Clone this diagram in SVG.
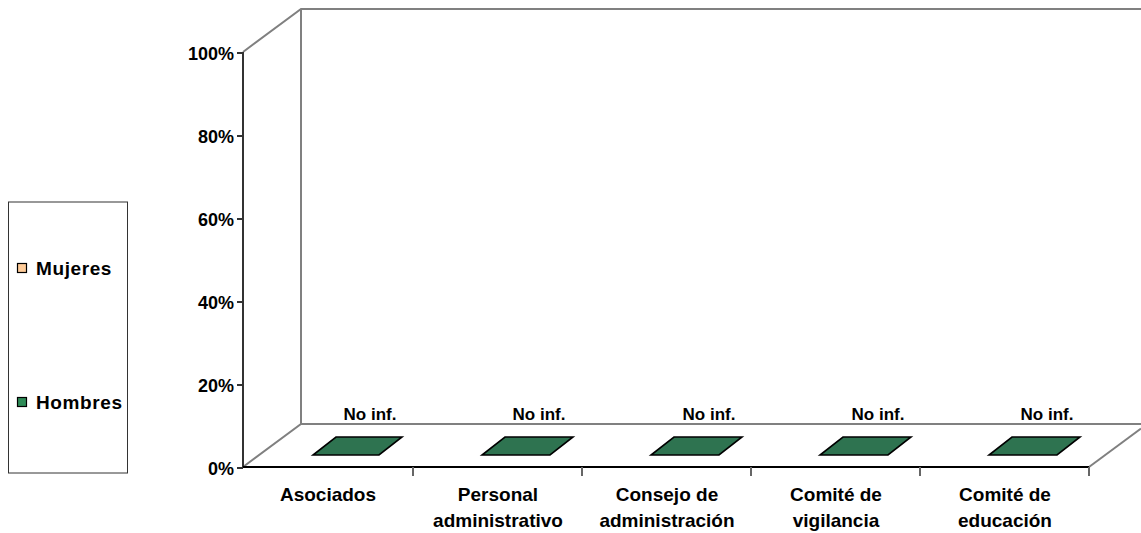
<svg xmlns="http://www.w3.org/2000/svg" width="1141" height="533" viewBox="0 0 1141 533">
<style>
.t{font-family:"Liberation Sans",Arial,sans-serif;font-weight:bold;fill:#000}
.ax{font-size:18px;text-anchor:end}
.cat{font-size:19px;text-anchor:middle}
.ni{font-size:17px;text-anchor:middle}
.lg{font-size:19px;letter-spacing:0.6px}
.wall{stroke:#808080;stroke-width:2;fill:none}
.bar{fill:#2E7350;stroke:#000;stroke-width:1.6;stroke-linejoin:miter}
</style>
<rect width="1141" height="533" fill="#fff"/>
<g id="walls">
<polyline class="wall" points="243,52 301,9 1141,9"/>
<line class="wall" x1="301" y1="9" x2="301" y2="424"/>
<polyline class="wall" points="243,467 301,424 1141,424"/>
<line class="wall" x1="1089" y1="467" x2="1141" y2="428.5" stroke-width="1.2"/>
</g>
<g id="axes" stroke="#333" stroke-width="2">
<line x1="243" y1="52" x2="243" y2="468"/>
<line x1="237" y1="53" x2="243" y2="53"/>
<line x1="237" y1="136" x2="243" y2="136"/>
<line x1="237" y1="219" x2="243" y2="219"/>
<line x1="237" y1="302" x2="243" y2="302"/>
<line x1="237" y1="385" x2="243" y2="385"/>
<line x1="237" y1="468" x2="243" y2="468"/>
<line x1="243" y1="467" x2="1089" y2="467" stroke="#000"/>
<line x1="413" y1="467" x2="413" y2="476" stroke="#666"/>
<line x1="582" y1="467" x2="582" y2="476" stroke="#666"/>
<line x1="751" y1="467" x2="751" y2="476" stroke="#666"/>
<line x1="920" y1="467" x2="920" y2="476" stroke="#666"/>
<line x1="1089" y1="467" x2="1089" y2="476" stroke="#666"/>
</g>
<g id="yLabels">
<text class="t ax" x="234" y="59.5">100%</text>
<text class="t ax" x="234" y="142.5">80%</text>
<text class="t ax" x="234" y="225.5">60%</text>
<text class="t ax" x="234" y="308.5">40%</text>
<text class="t ax" x="234" y="391.5">20%</text>
<text class="t ax" x="234" y="474.5">0%</text>
</g>
<g id="bars">
<polygon class="bar" points="313,455 379,455 402,437 336,437"/>
<polygon class="bar" points="482,455 550,455 573,437 505,437"/>
<polygon class="bar" points="651,455 719,455 742,437 674,437"/>
<polygon class="bar" points="820,455 888,455 911,437 843,437"/>
<polygon class="bar" points="989,455 1057,455 1080,437 1012,437"/>
</g>
<g id="dataLabels">
<text class="t ni" x="370" y="420">No inf.</text>
<text class="t ni" x="539" y="420">No inf.</text>
<text class="t ni" x="709" y="420">No inf.</text>
<text class="t ni" x="878" y="420">No inf.</text>
<text class="t ni" x="1047" y="420">No inf.</text>
</g>
<g id="categories">
<text class="t cat" x="328" y="501">Asociados</text>
<text class="t cat" x="498" y="501">Personal</text>
<text class="t cat" x="498" y="527">administrativo</text>
<text class="t cat" x="667" y="501">Consejo de</text>
<text class="t cat" x="667" y="527">administración</text>
<text class="t cat" x="836" y="501">Comité de</text>
<text class="t cat" x="836" y="527">vigilancia</text>
<text class="t cat" x="1005" y="501">Comité de</text>
<text class="t cat" x="1005" y="527">educación</text>
</g>
<g id="legend">
<rect x="8.5" y="202" width="119" height="271" fill="#fff" stroke="#333" stroke-width="1"/>
<rect x="17.5" y="263.5" width="9" height="9" fill="#FFCC99" stroke="#000" stroke-width="1.2"/>
<text class="t lg" x="36" y="274.5">Mujeres</text>
<rect x="17.5" y="397.5" width="9" height="9" fill="#2E8B57" stroke="#000" stroke-width="1.2"/>
<text class="t lg" x="36" y="408.5">Hombres</text>
</g>
</svg>
